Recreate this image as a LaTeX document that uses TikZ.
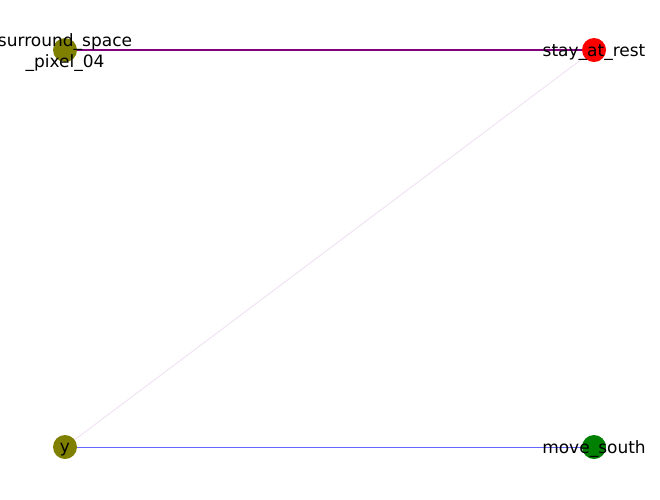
\documentclass[tikz,border=0pt]{standalone}
\usepackage{fontspec}
\setmainfont{DejaVu Sans}
\usepackage{tikz}
\usepackage{xcolor}
\usetikzlibrary{backgrounds}

\definecolor{olivenode}{RGB}{128,128,0}
\definecolor{greennode}{RGB}{0,128,0}
\definecolor{rednode}{RGB}{255,0,0}
\definecolor{purpleedge}{RGB}{128,0,128}
\definecolor{blueedge}{RGB}{102,102,255}
\definecolor{paleedge}{RGB}{238,222,242}

\tikzset{
  dot/.style={circle,inner sep=0pt,minimum size=24pt},
  lbl/.style={font=\fontsize{17}{20.5}\selectfont,align=center,text=black,yshift=-2.5pt}
}

\begin{document}
\begin{tikzpicture}[x=1pt,y=-1pt]
\useasboundingbox (0,0) rectangle (660,499);
\clip (0,0) rectangle (660,499);
\node[dot,fill=olivenode] (surround) at (65,50) {};
\node[dot,fill=rednode] (rest) at (594,50) {};
\node[dot,fill=olivenode] (y) at (65,447) {};
\node[dot,fill=greennode] (south) at (594,447) {};
\begin{scope}[on background layer]
\draw[purpleedge,line width=2pt] (surround.center) -- (rest.center);
\draw[paleedge,line width=0.8pt] (y.center) -- (rest.center);
\draw[blueedge,line width=1pt] (y.center) -- (south.center);
\end{scope}
\node[lbl] at (surround) {surround\_space\\\_pixel\_04};
\node[lbl] at (rest) {stay\_at\_rest};
\node[lbl] at (y) {y};
\node[lbl] at (south) {move\_south};
\end{tikzpicture}
\end{document}
